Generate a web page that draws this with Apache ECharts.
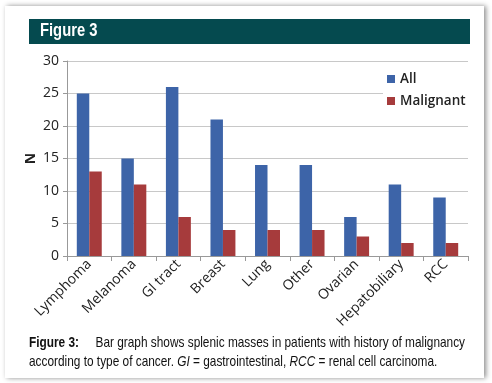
<!DOCTYPE html>
<html><head><meta charset="utf-8">
<script src="https://cdn.jsdelivr.net/npm/echarts@6/dist/echarts.min.js"></script>
<style>html,body{margin:0;padding:0;background:#fff;}#c{width:492px;height:383px;}</style>
</head><body><div id="c"></div>
<script>
var categories = ['Lymphoma','Melanoma','GI tract','Breast','Lung','Other','Ovarian','Hepatobiliary','RCC'];
var allValues = [25, 15, 26, 21, 14, 14, 6, 11, 9];
var malignantValues = [13, 11, 6, 4, 4, 4, 3, 2, 2];
var yTicks = [0, 5, 10, 15, 20, 25, 30];
var seriesNames = ['All', 'Malignant'];

var chart = echarts.init(document.getElementById('c'));
var lab = {fontFamily: 'Open Sans', color: '#222'};
chart.setOption({
  animation: false,
  backgroundColor: '#fff',
  grid: {left: 67, right: 24, top: 61, bottom: 127, containLabel: false},
  legend: {
    data: seriesNames, orient: 'vertical', left: 383, top: 70,
    itemWidth: 8, itemHeight: 8, itemGap: 8, icon: 'rect',
    backgroundColor: '#fff', padding: [2, 4, 2, 4],
    textStyle: {fontFamily: 'Open Sans', fontSize: 13.5, fontWeight: 600, color: '#222'}
  },
  xAxis: {
    type: 'category', data: categories,
    axisLine: {lineStyle: {color: '#999'}},
    axisTick: {show: true, length: 5, lineStyle: {color: '#999'}},
    axisLabel: Object.assign({rotate: 45, fontSize: 14, margin: 6, interval: 0}, lab)
  },
  yAxis: {
    type: 'value', min: 0, max: 30, interval: 5,
    name: 'N', nameLocation: 'middle', nameGap: 29, nameRotate: 90, nameMoveOverlap: false,
    nameTextStyle: {fontFamily: 'Open Sans', fontSize: 14, fontWeight: 'bold', color: '#222'},
    axisLine: {show: true, lineStyle: {color: '#999'}},
    axisTick: {show: true, length: 4, lineStyle: {color: '#999'}},
    axisLabel: Object.assign({fontSize: 14, margin: 8, formatter: function(v){return yTicks.indexOf(v) >= 0 ? String(v) : '';}}, lab),
    splitLine: {lineStyle: {color: '#c8c8c8'}}
  },
  series: [
    {name: seriesNames[0], type: 'bar', data: allValues, barGap: '0%', barCategoryGap: '44%', itemStyle: {color: '#3d64a8'}},
    {name: seriesNames[1], type: 'bar', data: malignantValues, itemStyle: {color: '#a63b3c'}}
  ],
  graphic: [
    {type: 'rect', z: -10, shape: {x: 5, y: 6, width: 479, height: 372},
     style: {fill: '#fff', shadowBlur: 5, shadowColor: 'rgba(0,0,0,0.45)', shadowOffsetX: 2, shadowOffsetY: 0}},
    {type: 'rect', z: -5, shape: {x: 29, y: 19, width: 441, height: 25}, style: {fill: '#054a4f'}},
    {type: 'text', z: 10, x: 40, y: 22, scaleX: 0.82, style: {text: 'Figure 3', font: 'bold 18px "Liberation Sans"', fill: '#fff'}},
    {type: 'text', z: 10, x: 29, y: 333, scaleX: 0.79, style: {
      rich: {
        b: {font: 'bold 15px "Liberation Sans"', fill: '#111'},
        n: {font: '15px "Liberation Sans"', fill: '#111'},
        i: {font: 'italic 15px "Liberation Sans"', fill: '#111'}
      },
      text: '{b|Figure 3:}{n|     Bar graph shows splenic masses in patients with history of malignancy}\n{n|according to type of cancer. }{i|GI}{n| = gastrointestinal, }{i|RCC}{n| = renal cell carcinoma.}',
      lineHeight: 19
    }}
  ]
});
</script></body></html>
